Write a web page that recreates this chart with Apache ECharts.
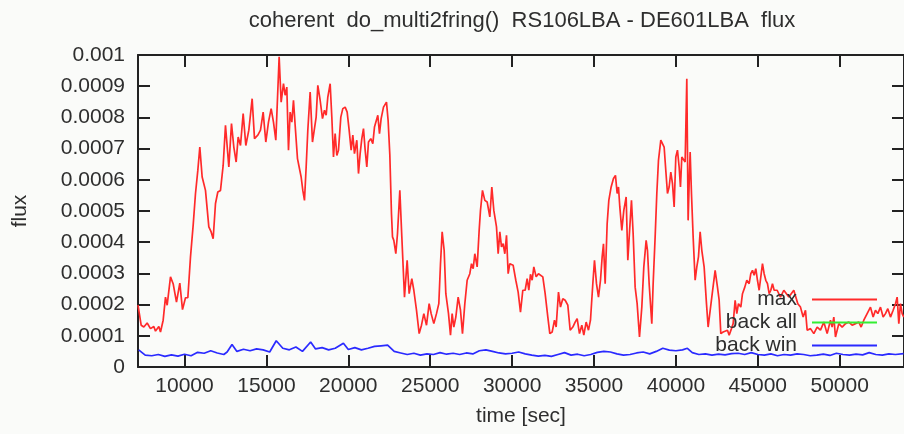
<!DOCTYPE html>
<html>
<head>
<meta charset="utf-8">
<script src="https://cdn.jsdelivr.net/npm/echarts@6/dist/echarts.min.js"></script>
<style>
  html, body { margin: 0; padding: 0; background: #fafbf9; }
  #chart { width: 904px; height: 434px; }
</style>
</head>
<body>
<div id="chart"></div>
<script>
// Fringe-fit flux versus time for the RS106LBA - DE601LBA baseline
const chartTitle = 'coherent  do_multi2fring()  RS106LBA - DE601LBA  flux';
const xAxisTitle = 'time [sec]';
const yAxisTitle = 'flux';
const seriesNames = ['max', 'back all', 'back win'];
const timeRange = [7160, 53925];
const fluxRange = [0, 0.001];
const fluxStep = 0.0001;

// [time (s), flux] of the fringe peak
const maxFlux = [
  [7160,1.98e-4],[7210,1.92e-4],[7353,1.34e-4],[7516,1.28e-4],[7719,1.41e-4],[7923,1.23e-4],[8126,1.30e-4],[8228,1.15e-4],
  [8431,1.30e-4],[8533,1.12e-4],[8696,1.50e-4],[8838,2.24e-4],[8940,1.98e-4],[9144,2.89e-4],[9306,2.67e-4],[9510,2.08e-4],
  [9713,2.69e-4],[9876,1.84e-4],[10059,2.22e-4],[10202,2.22e-4],[10365,3.53e-4],[10527,4.54e-4],[10670,5.56e-4],[10812,6.30e-4],
  [10934,7.05e-4],[11077,6.09e-4],[11280,5.66e-4],[11484,4.49e-4],[11626,4.33e-4],[11748,4.11e-4],[11891,5.24e-4],[12033,5.61e-4],
  [12196,5.66e-4],[12359,6.46e-4],[12501,7.75e-4],[12705,6.41e-4],[12868,7.80e-4],[13010,7.05e-4],[13153,6.57e-4],[13275,7.37e-4],
  [13417,7.10e-4],[13580,8.12e-4],[13743,7.10e-4],[13926,7.59e-4],[14129,8.60e-4],[14272,7.32e-4],[14475,7.43e-4],[14638,7.59e-4],
  [14801,8.17e-4],[14963,7.21e-4],[15126,7.85e-4],[15289,8.28e-4],[15431,7.85e-4],[15574,7.27e-4],[15696,8.87e-4],[15777,9.94e-4],
  [15899,8.49e-4],[16042,9.08e-4],[16144,8.71e-4],[16245,8.97e-4],[16347,6.95e-4],[16449,8.17e-4],[16551,7.85e-4],[16652,8.55e-4],
  [16754,7.75e-4],[16896,6.68e-4],[16998,6.41e-4],[17120,6.09e-4],[17222,5.66e-4],[17324,5.34e-4],[17426,6.41e-4],[17527,7.59e-4],
  [17670,8.81e-4],[17812,7.21e-4],[17934,7.27e-4],[18036,8.01e-4],[18138,9.03e-4],[18280,8.55e-4],[18423,7.96e-4],[18545,8.23e-4],
  [18647,8.07e-4],[18748,8.65e-4],[18891,9.08e-4],[18993,8.01e-4],[19094,6.73e-4],[19196,7.48e-4],[19298,6.78e-4],[19400,6.95e-4],
  [19542,8.01e-4],[19664,8.28e-4],[19807,8.33e-4],[19929,8.17e-4],[20051,7.59e-4],[20173,6.95e-4],[20275,7.43e-4],[20376,6.84e-4],
  [20519,7.27e-4],[20621,6.20e-4],[20722,6.84e-4],[20824,7.32e-4],[20926,7.64e-4],[21028,6.95e-4],[21129,6.41e-4],[21231,7.21e-4],
  [21373,7.32e-4],[21496,7.16e-4],[21597,7.69e-4],[21699,7.75e-4],[21801,8.07e-4],[21903,7.48e-4],[22004,7.96e-4],[22147,8.33e-4],
  [22330,8.49e-4],[22430,7.90e-4],[22534,6.80e-4],[22636,4.90e-4],[22697,4.17e-4],[22778,4.06e-4],[22900,3.63e-4],[23002,4.27e-4],
  [23145,5.66e-4],[23267,4.17e-4],[23429,2.24e-4],[23592,3.42e-4],[23714,2.35e-4],[23877,2.83e-4],[23999,2.46e-4],[24162,1.82e-4],
  [24325,1.07e-4],[24467,1.34e-4],[24610,1.71e-4],[24773,1.34e-4],[24935,2.03e-4],[25057,1.71e-4],[25220,1.39e-4],[25383,1.71e-4],
  [25525,2.03e-4],[25627,3.31e-4],[25729,4.33e-4],[25851,3.74e-4],[25953,2.35e-4],[26116,1.71e-4],[26238,1.02e-4],[26339,1.71e-4],
  [26441,1.28e-4],[26563,1.60e-4],[26706,2.24e-4],[26848,1.82e-4],[26970,1.07e-4],[27113,2.03e-4],[27255,2.78e-4],[27418,2.99e-4],
  [27520,3.31e-4],[27622,3.15e-4],[27723,3.63e-4],[27866,3.21e-4],[27988,4.38e-4],[28069,5.02e-4],[28191,5.66e-4],[28334,5.34e-4],
  [28476,5.29e-4],[28639,4.81e-4],[28761,5.77e-4],[28883,5.02e-4],[29046,4.49e-4],[29148,3.63e-4],[29250,4.33e-4],[29351,3.85e-4],
  [29453,3.95e-4],[29555,3.63e-4],[29657,4.22e-4],[29758,2.99e-4],[29860,3.31e-4],[30064,3.26e-4],[30226,2.78e-4],[30369,2.40e-4],
  [30511,1.76e-4],[30653,2.46e-4],[30796,2.46e-4],[30918,2.83e-4],[31020,2.46e-4],[31121,2.97e-4],[31223,2.78e-4],[31325,3.21e-4],
  [31467,2.89e-4],[31610,2.99e-4],[31732,2.94e-4],[31874,2.89e-4],[32017,2.35e-4],[32180,1.60e-4],[32302,1.07e-4],[32444,1.12e-4],
  [32587,1.50e-4],[32688,1.28e-4],[32831,2.40e-4],[32953,1.92e-4],[33095,2.19e-4],[33238,2.14e-4],[33401,1.98e-4],[33543,1.18e-4],
  [33706,1.28e-4],[33848,1.44e-4],[33970,1.55e-4],[34113,1.07e-4],[34255,1.34e-4],[34377,1.02e-4],[34520,1.44e-4],[34662,1.18e-4],
  [34784,1.50e-4],[34927,2.67e-4],[35029,3.42e-4],[35151,2.67e-4],[35273,2.24e-4],[35395,2.78e-4],[35497,3.53e-4],[35578,3.95e-4],
  [35680,2.67e-4],[35802,4.59e-4],[35904,5.34e-4],[36046,5.77e-4],[36188,6.04e-4],[36310,6.14e-4],[36412,5.56e-4],[36494,5.77e-4],
  [36575,5.13e-4],[36697,4.38e-4],[36819,5.02e-4],[36962,5.45e-4],[37064,3.42e-4],[37186,4.49e-4],[37287,5.34e-4],[37389,4.27e-4],
  [37511,2.56e-4],[37633,2.03e-4],[37776,0.96e-4],[37918,1.92e-4],[38040,3.21e-4],[38183,4.06e-4],[38264,3.74e-4],[38366,2.67e-4],
  [38528,1.39e-4],[38610,2.67e-4],[38732,4.17e-4],[38834,5.56e-4],[38935,6.62e-4],[39078,7.27e-4],[39180,7.32e-4],[39281,7.05e-4],
  [39383,6.30e-4],[39485,5.56e-4],[39587,5.77e-4],[39688,6.25e-4],[39790,5.88e-4],[39892,5.13e-4],[39994,6.73e-4],[40095,6.95e-4],
  [40197,6.41e-4],[40278,5.77e-4],[40360,6.73e-4],[40462,6.73e-4],[40563,6.57e-4],[40665,9.24e-4],[40746,4.70e-4],[40808,5.88e-4],
  [40869,6.89e-4],[40950,5.56e-4],[41052,4.17e-4],[41174,2.78e-4],[41276,3.21e-4],[41377,3.53e-4],[41479,4.33e-4],[41581,3.74e-4],
  [41723,3.21e-4],[41866,2.03e-4],[41967,1.28e-4],[42069,1.28e-4],[42191,2.24e-4],[42293,2.67e-4],[42395,3.10e-4],[42537,2.56e-4],
  [42639,2.14e-4],[42741,1.07e-4],[42883,1.12e-4],[43005,1.07e-4],[43148,1.18e-4],[43250,1.02e-4],[43392,1.23e-4],[43494,1.39e-4],
  [43616,2.14e-4],[43718,1.71e-4],[43819,2.03e-4],[43962,1.92e-4],[44064,2.35e-4],[44206,2.56e-4],[44328,2.78e-4],[44471,2.67e-4],
  [44572,2.99e-4],[44674,3.10e-4],[44776,2.94e-4],[44878,3.15e-4],[44979,2.78e-4],[45081,2.46e-4],[45183,2.89e-4],[45285,3.31e-4],
  [45386,2.99e-4],[45488,2.78e-4],[45590,2.67e-4],[45692,2.35e-4],[45793,2.46e-4],[45895,2.67e-4],[45997,2.46e-4],[46181,2.46e-4],
  [46384,2.24e-4],[46588,2.46e-4],[46893,2.24e-4],[47198,2.46e-4],[47442,2.03e-4],[47605,1.92e-4],[47768,1.60e-4],[47910,1.82e-4],
  [48012,1.18e-4],[48216,1.23e-4],[48419,1.07e-4],[48623,1.28e-4],[48826,1.18e-4],[49030,1.44e-4],[49233,1.07e-4],[49437,1.50e-4],
  [49538,1.28e-4],[49640,1.60e-4],[49742,0.96e-4],[49945,1.39e-4],[50149,1.28e-4],[50352,1.39e-4],[50556,1.44e-4],[50759,1.34e-4],
  [50963,1.39e-4],[51166,1.44e-4],[51309,1.28e-4],[51471,1.50e-4],[51675,1.71e-4],[51878,1.92e-4],[52041,1.60e-4],[52184,1.82e-4],
  [52326,1.71e-4],[52489,1.92e-4],[52652,1.60e-4],[52794,1.71e-4],[52937,1.87e-4],[53100,1.60e-4],[53262,1.82e-4],[53405,2.03e-4],
  [53507,2.24e-4],[53609,1.39e-4],[53710,2.03e-4],[53812,1.71e-4],[53914,1.60e-4]
];

// background over the whole field (not drawn inside the plot range)
const backAllFlux = [];

// [time (s), flux] of the background inside the search window
const backWinFlux = [
  [7200,0.55e-4],[7600,0.38e-4],[8000,0.36e-4],[8400,0.40e-4],[8800,0.34e-4],[9200,0.39e-4],[9600,0.35e-4],[10000,0.41e-4],
  [10400,0.36e-4],[10800,0.47e-4],[11200,0.44e-4],[11600,0.52e-4],[12000,0.45e-4],[12400,0.40e-4],[12600,0.48e-4],[12900,0.72e-4],
  [13200,0.50e-4],[13600,0.57e-4],[14000,0.52e-4],[14400,0.58e-4],[14800,0.55e-4],[15200,0.48e-4],[15600,0.84e-4],[16000,0.60e-4],
  [16400,0.55e-4],[16800,0.64e-4],[17200,0.50e-4],[17700,0.80e-4],[18000,0.58e-4],[18400,0.62e-4],[18800,0.55e-4],[19200,0.60e-4],
  [19700,0.76e-4],[20000,0.56e-4],[20400,0.62e-4],[20800,0.55e-4],[21200,0.60e-4],[21600,0.66e-4],[22000,0.68e-4],[22400,0.70e-4],
  [22800,0.50e-4],[23200,0.45e-4],[23600,0.40e-4],[24000,0.44e-4],[24400,0.38e-4],[24800,0.42e-4],[25200,0.40e-4],[25600,0.46e-4],
  [26000,0.41e-4],[26400,0.44e-4],[26800,0.40e-4],[27200,0.45e-4],[27600,0.42e-4],[28000,0.52e-4],[28400,0.55e-4],[28800,0.50e-4],
  [29200,0.45e-4],[29600,0.42e-4],[30000,0.44e-4],[30400,0.48e-4],[30800,0.42e-4],[31200,0.38e-4],[31600,0.35e-4],[32000,0.37e-4],
  [32400,0.34e-4],[32800,0.40e-4],[33200,0.46e-4],[33600,0.38e-4],[34000,0.41e-4],[34400,0.36e-4],[34800,0.40e-4],[35200,0.47e-4],
  [35600,0.50e-4],[36000,0.48e-4],[36400,0.42e-4],[36800,0.38e-4],[37200,0.40e-4],[37600,0.45e-4],[38000,0.48e-4],[38400,0.42e-4],
  [38800,0.50e-4],[39200,0.60e-4],[39600,0.54e-4],[40000,0.52e-4],[40400,0.55e-4],[40700,0.60e-4],[41000,0.46e-4],[41400,0.40e-4],
  [41800,0.42e-4],[42200,0.38e-4],[42600,0.41e-4],[43000,0.39e-4],[43400,0.43e-4],[43800,0.44e-4],[44200,0.40e-4],[44600,0.46e-4],
  [45000,0.40e-4],[45400,0.38e-4],[45800,0.42e-4],[46200,0.36e-4],[46600,0.40e-4],[47000,0.38e-4],[47400,0.42e-4],[47800,0.40e-4],
  [48200,0.36e-4],[48600,0.38e-4],[49000,0.41e-4],[49400,0.37e-4],[49800,0.44e-4],[50200,0.40e-4],[50600,0.38e-4],[51000,0.41e-4],
  [51400,0.39e-4],[51800,0.46e-4],[52200,0.40e-4],[52600,0.38e-4],[53000,0.42e-4],[53400,0.40e-4],[53900,0.43e-4]
];

const FONT = '"Liberation Sans", Arial, sans-serif';
const FONT_SIZE = 21;
const INK = '#2e2e2e';
const FRAME = { color: '#222', width: 2 };
const lineColors = ['#ff2a2a', '#33ee33', '#2a2aff'];

const frameX = (pos, withLabels) => ({
  type: 'value', position: pos, min: timeRange[0], max: timeRange[1], splitNumber: 9,
  axisLine: { show: true, onZero: false, lineStyle: FRAME },
  axisTick: { show: true, inside: true, length: 12, lineStyle: FRAME },
  axisLabel: { show: withLabels, showMinLabel: false, showMaxLabel: false,
               fontFamily: FONT, fontSize: FONT_SIZE, color: INK, margin: 9,
               formatter: v => String(Math.round(v)) },
  splitLine: { show: false }
});
const frameY = (pos, withLabels) => ({
  type: 'value', position: pos, min: fluxRange[0], max: fluxRange[1], interval: fluxStep,
  axisLine: { show: true, onZero: false, lineStyle: FRAME },
  axisTick: { show: true, inside: true, length: 12, lineStyle: FRAME },
  axisLabel: { show: withLabels, fontFamily: FONT, fontSize: FONT_SIZE, color: INK, margin: 13,
               formatter: v => v === 0 ? '0' : String(+v.toFixed(4)) },
  splitLine: { show: false }
});

const xBottom = Object.assign(frameX('bottom', true), {
  name: xAxisTitle, nameLocation: 'middle', nameGap: 39,
  nameTextStyle: { fontFamily: FONT, fontSize: FONT_SIZE, color: INK }
});
const yLeft = Object.assign(frameY('left', true), {
  name: yAxisTitle, nameLocation: 'middle', nameGap: 107, nameRotate: 90,
  nameTextStyle: { fontFamily: FONT, fontSize: FONT_SIZE, color: INK }
});

const legendTops = [289, 312, 335];
const chart = echarts.init(document.getElementById('chart'), null, { renderer: 'canvas' });
chart.setOption({
  backgroundColor: '#fafbf9',
  animation: false,
  title: {
    text: chartTitle, left: 522, top: 10, textAlign: 'center', padding: 0,
    textStyle: { fontFamily: FONT, fontSize: 22, fontWeight: 'normal', color: INK }
  },
  grid: { left: 138, right: 0, top: 55, bottom: 67, containLabel: false },
  xAxis: [xBottom, frameX('top', false)],
  yAxis: [yLeft, frameY('right', false)],
  legend: seriesNames.map((name, i) => ({
    data: [name], orient: 'horizontal', right: 27, top: legendTops[i], align: 'right', padding: 0,
    icon: 'rect', itemWidth: 65, itemHeight: 2, selectedMode: false,
    textStyle: { fontFamily: FONT, fontSize: FONT_SIZE, color: INK, padding: [0, 10, 0, 0] }
  })),
  series: [
    { name: seriesNames[0], data: maxFlux },
    { name: seriesNames[1], data: backAllFlux },
    { name: seriesNames[2], data: backWinFlux }
  ].map((s, i) => Object.assign(s, {
    type: 'line', xAxisIndex: 0, yAxisIndex: 0, showSymbol: false, symbol: 'none',
    color: lineColors[i], lineStyle: { color: lineColors[i], width: 1.7 }, z: 3 - i
  }))
});
</script>
</body>
</html>
